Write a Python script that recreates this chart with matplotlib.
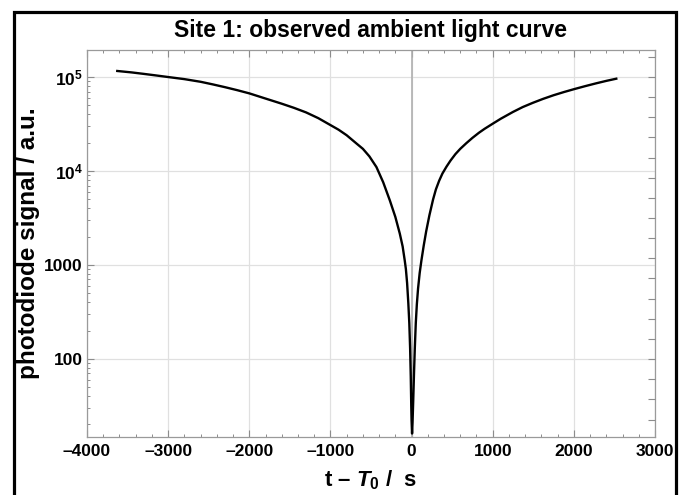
import numpy as np
import matplotlib
matplotlib.use('Agg')
from matplotlib import pyplot as plt
from matplotlib.patches import Rectangle
from matplotlib.ticker import FixedLocator, MultipleLocator, LogLocator, NullFormatter

# values (t - T0 in s, signal in a.u.)
t_before = [-3627, -3450, -3300, -3150, -3000, -2800, -2600, -2450, -2300, -2150,
            -2000, -1800, -1600, -1450, -1300, -1150, -1000, -900, -800, -679,
            -600, -520, -433, -350, -268, -200, -145, -110, -84, -70,
            -55, -40, -28, -18, -10, -4, 0]
sig_before = [1.16e5, 1.12e5, 1.08e5, 1.04e5, 1.0e5, 9.5e4, 8.9e4, 8.35e4, 7.8e4, 7.25e4,
              6.7e4, 5.9e4, 5.2e4, 4.7e4, 4.2e4, 3.65e4, 3.08e4, 2.75e4, 2.4e4, 1.96e4,
              1.72e4, 1.43e4, 1.1e4, 7590, 4860, 3240, 2150, 1570, 1110, 900,
              640, 390, 240, 130, 65, 32, 22]
t_after = [6, 12, 20, 30, 40, 52, 65, 80, 100, 121, 150, 180, 220, 265, 300, 340,
           380, 430, 480, 540, 600, 676, 750, 830, 900, 1004, 1100, 1250, 1370,
           1496, 1620, 1750, 1880, 2010, 2140, 2270, 2400, 2523]
sig_after = [16, 21, 35, 70, 130, 240, 380, 560, 820, 1110, 1610, 2275, 3380, 4970,
             6370, 7870, 9380, 1.11e4, 1.29e4, 1.51e4, 1.72e4, 1.98e4, 2.25e4, 2.55e4,
             2.81e4, 3.2e4, 3.6e4, 4.25e4, 4.79e4, 5.32e4, 5.85e4, 6.4e4, 6.93e4,
             7.46e4, 8.0e4, 8.55e4, 9.1e4, 9.6e4]

x_ticks = [-4000, -3000, -2000, -1000, 0, 1000, 2000, 3000]
y_ticks = [100, 1000, 1e4, 1e5]
y_ticklabels = ['100', '1000', r'$\mathbf{10^{4}}$', r'$\mathbf{10^{5}}$']

plt.rcParams['font.family'] = ['Liberation Sans', 'DejaVu Sans']
plt.rcParams['font.weight'] = 'bold'
plt.rcParams['mathtext.fontset'] = 'custom'
plt.rcParams['mathtext.bf'] = 'Liberation Sans:bold'
plt.rcParams['mathtext.rm'] = 'Liberation Sans:bold'
plt.rcParams['mathtext.it'] = 'Liberation Sans:italic:bold'

fig = plt.figure(figsize=(6.86, 4.95), dpi=100)
ax = fig.add_axes([87/686, 1-437/495, (655-87)/686, (437-50)/495])

t_all = t_before + t_after
sig_all = sig_before + sig_after
ax.plot(t_all, sig_all, color='black', lw=1.7, zorder=3, solid_joinstyle='round')
ax.axvline(0, color='#b0b0b0', lw=1.2, zorder=2)

ax.set_yscale('log')
ax.set_xlim(-4000, 3000)
ax.set_ylim(14.7, 1.94e5)

ax.set_xticks(x_ticks)
ax.set_xticklabels([str(v).replace('-', '\u2013') for v in x_ticks])
ax.xaxis.set_minor_locator(MultipleLocator(200))
ax.set_yticks(y_ticks)
ax.set_yticklabels(y_ticklabels)
ax.yaxis.set_minor_locator(LogLocator(base=10, subs=np.arange(2, 10)))
ax.yaxis.set_minor_formatter(NullFormatter())

ax.grid(True, which='major', color='#e0e0e0', lw=0.9)
ax.tick_params(which='both', direction='in', color='#8c8c8c', top=True, right=False,
               labelsize=12.5, pad=5)
ax.tick_params(which='major', length=5, width=0.8)
ax.tick_params(which='minor', length=2.5, width=0.7)
ax.tick_params(axis='y', pad=3)
for lab in ax.get_xticklabels() + ax.get_yticklabels():
    lab.set_fontweight('bold')
for s in ax.spines.values():
    s.set_color('#9a9a9a')
    s.set_linewidth(0.9)

# right frame: evenly spaced ticks without labels
ax2 = ax.twinx()
ax2.set_yscale('log')
ax2.set_ylim(ax.get_ylim())
ax2.yaxis.set_major_locator(FixedLocator([10**(5 + 0.2145*k) for k in range(-18, 2)]))
ax2.yaxis.set_minor_locator(FixedLocator([]))
ax2.yaxis.set_major_formatter(NullFormatter())
ax2.tick_params(direction='in', color='#8c8c8c', length=5, width=0.8)
for s in ax2.spines.values():
    s.set_visible(False)

ax.set_title('Site 1: observed ambient light curve', fontsize=16.5, fontweight='bold', pad=9)
ax.set_xlabel('t \u2013 $T_{\\mathbf{0}}$ /  s', fontsize=16, fontweight='bold', labelpad=7)
ax.set_ylabel('photodiode signal / a.u.', fontsize=17.5, fontweight='bold')
ax.yaxis.set_label_coords(-0.082, 0.5)

# outer frame around the whole picture
fig.patches.append(Rectangle((14/686, -0.05), (676-14)/686, 1-12/495+0.05,
                             transform=fig.transFigure, fill=False, ec='black', lw=2.3))

fig.savefig('out.png', dpi=100)
